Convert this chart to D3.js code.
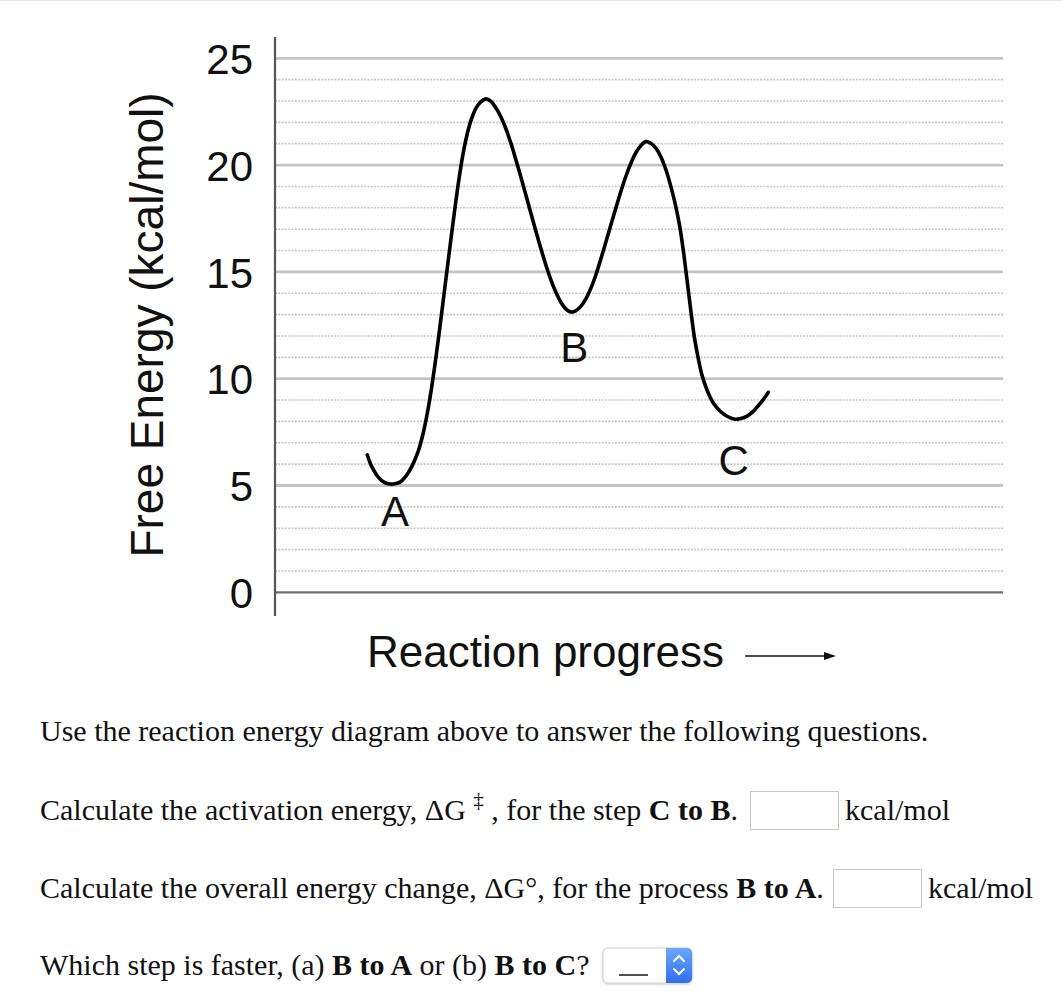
<!DOCTYPE html>
<html>
<head>
<meta charset="utf-8">
<script src="https://cdn.jsdelivr.net/npm/d3@7/dist/d3.min.js"></script>
<style>
  html, body { margin: 0; padding: 0; background: #fff; }
  svg { display: block; }
</style>
</head>
<body>
<svg id="chart" width="1062" height="1002"></svg>
<script>
// ---------- data ----------
const yTicks = [0, 5, 10, 15, 20, 25];
const minorTicks = [1,2,3,4,6,7,8,9,11,12,13,14,16,17,18,19,21,22,23,24];
// reaction progress (0-100) and free energy (kcal/mol) along the curve
const progress = [12.68,13.19,13.74,14.35,14.97,15.59,16.25,17.17,17.99,18.82,19.64,20.33,20.95,21.50,22.02,22.53,23.05,23.60,24.15,24.70,25.25,25.80,26.37,26.99,27.61,28.23,28.98,29.67,30.36,31.04,31.73,32.42,33.10,33.79,34.48,35.16,35.85,36.54,37.23,37.91,38.60,39.29,39.97,40.66,41.35,42.03,42.72,43.41,44.09,44.78,45.47,46.15,46.84,47.53,48.21,48.90,49.59,50.27,50.92,51.65,52.34,53.02,53.71,54.40,55.01,55.56,56.04,56.46,56.87,57.21,57.62,58.10,58.65,59.34,60.16,61.13,62.16,63.19,64.01,64.84,65.66,66.35,67.10,67.76];
const energy = [6.43,5.96,5.61,5.33,5.16,5.08,5.07,5.16,5.44,5.91,6.57,7.41,8.44,9.56,10.78,12.09,13.50,15.00,16.49,17.94,19.30,20.47,21.41,22.16,22.67,22.95,23.10,22.98,22.67,22.25,21.69,21.01,20.24,19.42,18.58,17.73,16.89,16.07,15.30,14.62,14.04,13.57,13.26,13.12,13.19,13.40,13.75,14.25,14.88,15.63,16.42,17.22,18.01,18.79,19.49,20.10,20.59,20.92,21.10,21.01,20.78,20.38,19.77,18.97,18.13,17.20,16.12,15.00,13.87,12.94,11.91,11.02,10.17,9.47,8.89,8.49,8.23,8.10,8.14,8.25,8.46,8.72,9.03,9.36];
const pointLabels = ["A", "B", "C"];
const labelProgress = [16.5, 41.1, 63.0];
const labelEnergy = [3.1, 10.8, 5.5];
const yTitle = "Free Energy (kcal/mol)";
const xTitle = "Reaction progress";

// ---------- scales ----------
const svg = d3.select("#chart");
const x = d3.scaleLinear().domain([0, 100]).range([275, 1003]);
const y = d3.scaleLinear().domain([0, 25]).range([592.3, 58.3]);
const sans = "'Liberation Sans', Arial, Helvetica, sans-serif";

// faint top border
svg.append("line").attr("x1", 0).attr("x2", 1062).attr("y1", 0.5).attr("y2", 0.5)
  .attr("stroke", "#e6e6e6").attr("stroke-width", 1);

// minor dotted gridlines
svg.append("g").selectAll("line").data(minorTicks).join("line")
  .attr("x1", x(0)).attr("x2", x(100))
  .attr("y1", d => y(d)).attr("y2", d => y(d))
  .attr("stroke", "#c6c6c6").attr("stroke-width", 1.6)
  .attr("stroke-dasharray", "2,1.3");

// major gridlines
svg.append("g").selectAll("line").data(yTicks).join("line")
  .attr("x1", x(0)).attr("x2", x(100))
  .attr("y1", d => y(d)).attr("y2", d => y(d))
  .attr("stroke", d => d === 0 ? "#6e6e6e" : "#c4c4c4")
  .attr("stroke-width", d => d === 0 ? 2.2 : 2.8);

// y axis
const yAxis = d3.axisLeft(y).tickValues(yTicks).tickSize(0).tickPadding(22);
const gy = svg.append("g").attr("transform", `translate(${x(0)},0)`).call(yAxis);
gy.select(".domain").remove();
gy.selectAll("text")
  .attr("font-family", sans)
  .attr("font-size", 42).attr("fill", "#111").attr("dy", "0.36em");

// axis line (extends past range)
svg.append("line").attr("x1", x(0)).attr("x2", x(0))
  .attr("y1", 37).attr("y2", 616)
  .attr("stroke", "#555").attr("stroke-width", 2.2);

// curve
const pts = progress.map((p, i) => [p, energy[i]]);
const line = d3.line().x(d => x(d[0])).y(d => y(d[1])).curve(d3.curveCatmullRom.alpha(0.5));
svg.append("path").datum(pts).attr("d", line)
  .attr("fill", "none").attr("stroke", "#000").attr("stroke-width", 3.6)
  .attr("stroke-linecap", "round").attr("stroke-linejoin", "round");

// point labels
svg.append("g").selectAll("text").data(pointLabels).join("text")
  .attr("x", (d, i) => x(labelProgress[i]))
  .attr("y", (d, i) => y(labelEnergy[i]))
  .attr("text-anchor", "middle")
  .attr("font-family", sans)
  .attr("font-size", 42).attr("fill", "#111")
  .text(d => d);

// y title
svg.append("text")
  .attr("transform", "translate(163,325) rotate(-90)")
  .attr("text-anchor", "middle")
  .attr("font-family", sans)
  .attr("font-size", 46).attr("fill", "#111")
  .text(yTitle);

// x title + arrow
svg.append("text")
  .attr("x", 367).attr("y", 667)
  .attr("font-family", sans)
  .attr("font-size", 44).attr("fill", "#111")
  .text(xTitle);
svg.append("line").attr("x1", 745).attr("x2", 826).attr("y1", 656).attr("y2", 656)
  .attr("stroke", "#111").attr("stroke-width", 1.6);
svg.append("path").attr("d", "M824,652 L836,656 L824,660 Z").attr("fill", "#111");

// ---------- question text ----------
const serif = "'Liberation Serif', 'Times New Roman', Times, serif";
function addLine(yPos, parts) {
  const t = svg.append("text").attr("x", 40).attr("y", yPos)
    .attr("font-family", serif).attr("font-size", 30).attr("fill", "#111");
  parts.forEach(p => {
    const ts = t.append("tspan").text(p.t);
    if (p.b) ts.attr("font-weight", "bold");
    if (p.sup) ts.attr("font-size", 21).attr("dy", -13);
    if (p.down) ts.attr("dy", 13);
  });
  return t;
}
addLine(741, [{t: "Use the reaction energy diagram above to answer the following questions."}]);
addLine(820, [{t: "Calculate the activation energy, ΔG "}, {t: "‡", sup: true}, {t: " , for the step ", down: true}, {t: "C to B", b: true}, {t: "."}]);
addLine(898, [{t: "Calculate the overall energy change, ΔG°, for the process "}, {t: "B to A", b: true}, {t: "."}]);
addLine(975, [{t: "Which step is faster, (a) "}, {t: "B to A", b: true}, {t: " or (b) "}, {t: "B to C", b: true}, {t: "?"}]);

// input boxes
function box(x0, y0, w, h) {
  svg.append("rect").attr("x", x0 + 0.5).attr("y", y0 + 0.5).attr("width", w).attr("height", h)
    .attr("fill", "#fff").attr("stroke", "#c8c8c8").attr("stroke-width", 1);
}
box(750, 791, 88, 38);
svg.append("text").attr("x", 845).attr("y", 820).attr("font-family", serif).attr("font-size", 30)
  .attr("fill", "#111").text("kcal/mol");
box(833, 869, 88, 38);
svg.append("text").attr("x", 928).attr("y", 898).attr("font-family", serif).attr("font-size", 30)
  .attr("fill", "#111").text("kcal/mol");

// select widget
const defs = svg.append("defs");
const grad = defs.append("linearGradient").attr("id", "blueg").attr("x1", 0).attr("x2", 0).attr("y1", 0).attr("y2", 1);
grad.append("stop").attr("offset", "0%").attr("stop-color", "#6aa8fb");
grad.append("stop").attr("offset", "100%").attr("stop-color", "#2f6ff0");
defs.append("clipPath").attr("id", "selclip").append("rect")
  .attr("x", 603).attr("y", 948).attr("width", 89).attr("height", 35).attr("rx", 5);
defs.append("filter").attr("id", "sh").append("feDropShadow")
  .attr("dx", 0).attr("dy", 0.8).attr("stdDeviation", 0.8).attr("flood-color", "#000").attr("flood-opacity", 0.25);
svg.append("rect").attr("x", 603).attr("y", 948).attr("width", 89).attr("height", 35).attr("rx", 5)
  .attr("fill", "#fff").attr("stroke", "#cfcfcf").attr("filter", "url(#sh)");
svg.append("rect").attr("x", 666).attr("y", 948).attr("width", 26).attr("height", 35)
  .attr("fill", "url(#blueg)").attr("clip-path", "url(#selclip)");
svg.append("path").attr("d", "M674,961 L679,956 L684,961").attr("fill", "none")
  .attr("stroke", "#fff").attr("stroke-width", 2).attr("stroke-linecap", "round");
svg.append("path").attr("d", "M674,969 L679,974 L684,969").attr("fill", "none")
  .attr("stroke", "#fff").attr("stroke-width", 2).attr("stroke-linecap", "round");
svg.append("line").attr("x1", 619).attr("x2", 648).attr("y1", 975).attr("y2", 975)
  .attr("stroke", "#222").attr("stroke-width", 1.6);
</script>
</body>
</html>
